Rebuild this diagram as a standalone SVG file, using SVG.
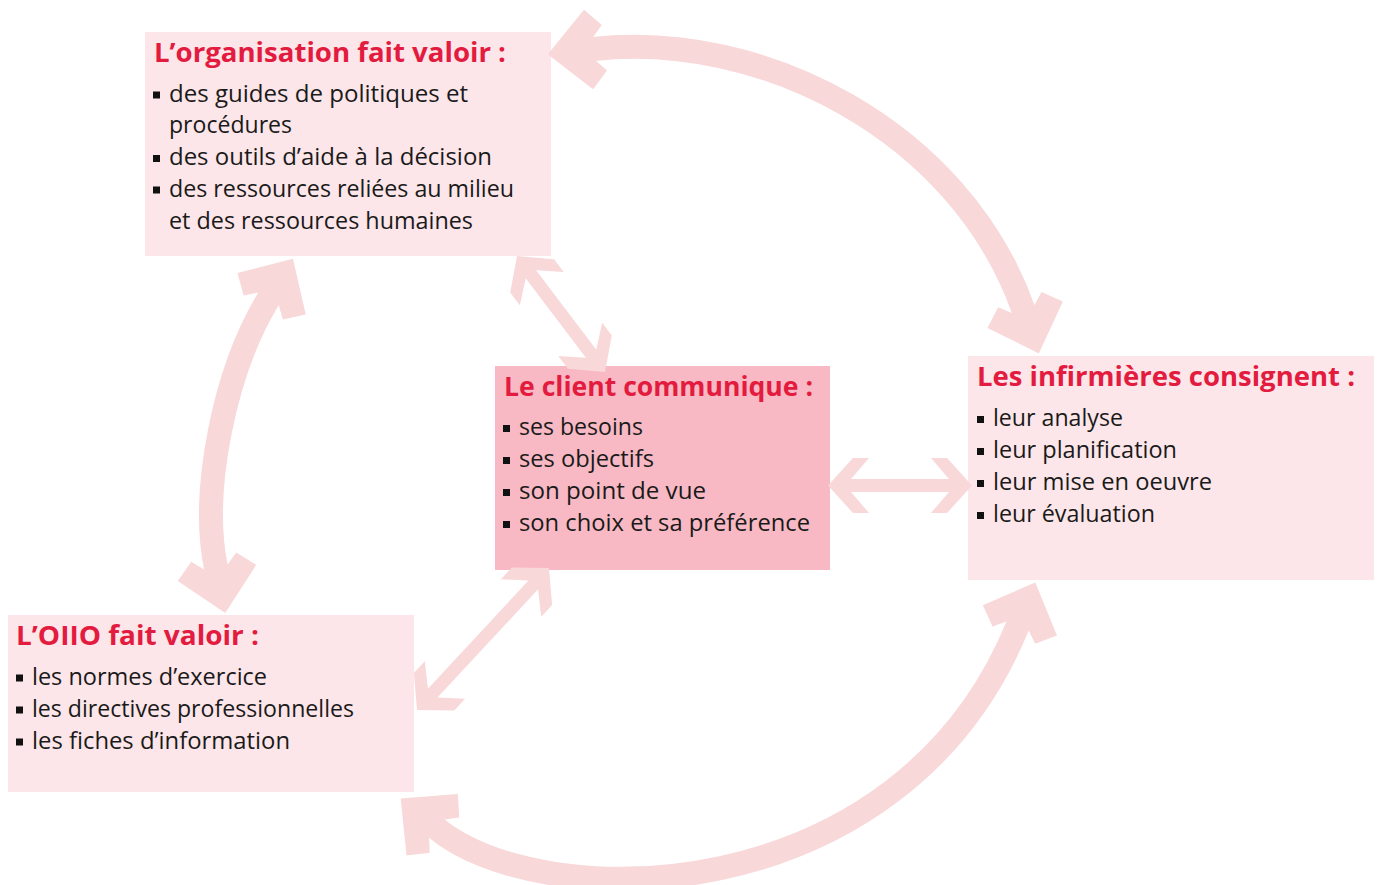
<svg xmlns="http://www.w3.org/2000/svg" width="1379" height="885" viewBox="0 0 1379 885">
<style>
.box{fill:#FDE6E9}
.boxc{fill:#F8B9C4}
.title{font-family:"Open Sans","Noto Sans","Liberation Sans",sans-serif;font-weight:bold;font-size:26px;fill:#E31B3F}
.body{font-family:"Open Sans","Noto Sans","Liberation Sans",sans-serif;font-weight:400;font-size:23px;fill:#1a1a1a}
.bul{fill:#111}
.big{fill:none;stroke:#F8D8D8;stroke-width:24;marker-start:url(#hb);marker-end:url(#hb)}
.small{fill:none;stroke:#F8D8D8;stroke-width:13;marker-start:url(#hs);marker-end:url(#hs)}
.head{fill:#F8D8D8}
</style>
<defs>
<marker id="hb" markerUnits="userSpaceOnUse" orient="auto-start-reverse" refX="0" refY="0" markerWidth="120" markerHeight="120" overflow="visible">
<polygon class="head" points="46,0 5,40 -11,23 -1,12 -1,-12 -11,-23 5,-40"/>
</marker>
<marker id="hs" markerUnits="userSpaceOnUse" orient="auto-start-reverse" refX="0" refY="0" markerWidth="80" markerHeight="80" overflow="visible">
<polygon class="head" points="22,0 -3,27.5 -19,27.5 -1,6.5 -1,-6.5 -19,-27.5 -3,-27.5"/>
</marker>
</defs>
<rect width="1379" height="885" fill="#ffffff"/>

<g id="node-organisation">
<rect class="box" x="145" y="32" width="406" height="224"/>
<text class="title" x="154" y="62" textLength="352" lengthAdjust="spacingAndGlyphs">L’organisation fait valoir :</text>
<rect class="bul" x="153" y="91.5" width="7" height="7"/>
<text class="body" x="169" y="101.5" textLength="299" lengthAdjust="spacingAndGlyphs">des guides de politiques et</text>
<text class="body" x="169" y="133" textLength="123" lengthAdjust="spacingAndGlyphs">procédures</text>
<rect class="bul" x="153" y="155" width="7" height="7"/>
<text class="body" x="169" y="165" textLength="323" lengthAdjust="spacingAndGlyphs">des outils d’aide à la décision</text>
<rect class="bul" x="153" y="186.5" width="7" height="7"/>
<text class="body" x="169" y="196.5" textLength="345" lengthAdjust="spacingAndGlyphs">des ressources reliées au milieu</text>
<text class="body" x="169" y="228.5" textLength="304" lengthAdjust="spacingAndGlyphs">et des ressources humaines</text>
</g>

<g id="node-client">
<rect class="boxc" x="495" y="366" width="335" height="204"/>
<text class="title" x="504" y="396" textLength="309" lengthAdjust="spacingAndGlyphs">Le client communique :</text>
<rect class="bul" x="503" y="425" width="7" height="7"/>
<text class="body" x="519" y="435" textLength="124" lengthAdjust="spacingAndGlyphs">ses besoins</text>
<rect class="bul" x="503" y="457" width="7" height="7"/>
<text class="body" x="519" y="467" textLength="135" lengthAdjust="spacingAndGlyphs">ses objectifs</text>
<rect class="bul" x="503" y="489" width="7" height="7"/>
<text class="body" x="519" y="499" textLength="187" lengthAdjust="spacingAndGlyphs">son point de vue</text>
<rect class="bul" x="503" y="521" width="7" height="7"/>
<text class="body" x="519" y="531" textLength="291" lengthAdjust="spacingAndGlyphs">son choix et sa préférence</text>
</g>

<g id="node-infirmieres">
<rect class="box" x="968" y="356" width="406" height="224"/>
<text class="title" x="977" y="386" textLength="378" lengthAdjust="spacingAndGlyphs">Les infirmières consignent :</text>
<rect class="bul" x="977" y="416" width="7" height="7"/>
<text class="body" x="993" y="426" textLength="130" lengthAdjust="spacingAndGlyphs">leur analyse</text>
<rect class="bul" x="977" y="448" width="7" height="7"/>
<text class="body" x="993" y="458" textLength="184" lengthAdjust="spacingAndGlyphs">leur planification</text>
<rect class="bul" x="977" y="480" width="7" height="7"/>
<text class="body" x="993" y="490" textLength="219" lengthAdjust="spacingAndGlyphs">leur mise en oeuvre</text>
<rect class="bul" x="977" y="512" width="7" height="7"/>
<text class="body" x="993" y="522" textLength="162" lengthAdjust="spacingAndGlyphs">leur évaluation</text>
</g>

<g id="node-oiio">
<rect class="box" x="8" y="615" width="406" height="177"/>
<text class="title" x="16" y="644.5" textLength="243" lengthAdjust="spacingAndGlyphs">L’OIIO fait valoir :</text>
<rect class="bul" x="16" y="674.5" width="7" height="7"/>
<text class="body" x="32" y="684.5" textLength="235" lengthAdjust="spacingAndGlyphs">les normes d’exercice</text>
<rect class="bul" x="16" y="706.5" width="7" height="7"/>
<text class="body" x="32" y="716.5" textLength="322" lengthAdjust="spacingAndGlyphs">les directives professionnelles</text>
<rect class="bul" x="16" y="738.5" width="7" height="7"/>
<text class="body" x="32" y="748.5" textLength="258" lengthAdjust="spacingAndGlyphs">les fiches d’information</text>
</g>

<g id="connectors">
<path class="big" d="M 593.5 49 C 760 30, 960 130, 1023.5 310"/>
<path class="big" d="M 269 298 C 225 370, 200 490, 216 568"/>
<path class="big" d="M 436 828 C 540 915, 900 915, 1018 625"/>
<path class="small" d="M 850 485.5 L 950 485.5"/>
<path class="small" d="M 530.3 273.5 L 591.7 354.5"/>
<path class="small" d="M 534 584.1 L 432 693.9"/>
</g>
</svg>
